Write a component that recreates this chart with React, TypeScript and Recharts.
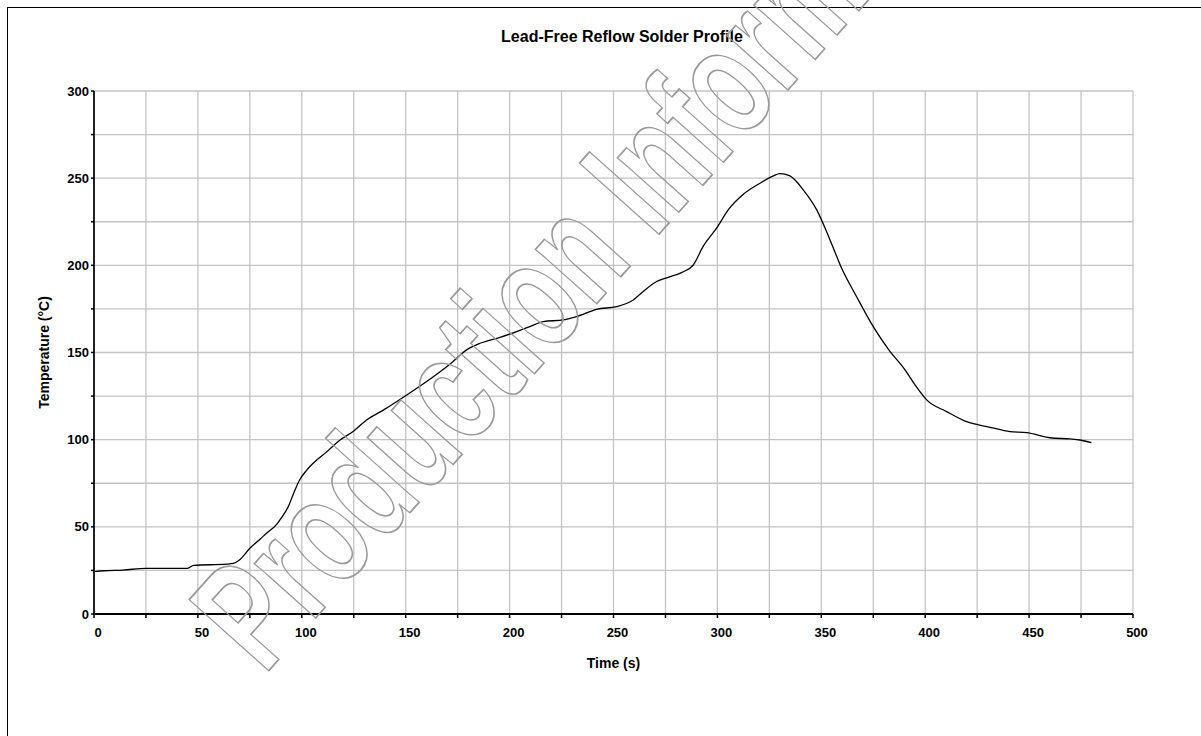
import React from 'react';
import { LineChart, Line, XAxis, YAxis, CartesianGrid, Label } from 'recharts';

const TIME_S = [0, 5, 14, 25, 45, 48, 64, 67, 70, 75, 80, 83, 88, 90, 93.5, 96, 99, 102, 105.5, 112, 118.4, 125, 131.2, 140, 150.5, 163.3, 172, 179.3, 185.8, 195.4, 203.4, 210, 216.2, 225.9, 232.3, 241.9, 251.5, 259.5, 264.3, 270.8, 276, 283, 288.4, 293.2, 299.6, 305.2, 312.5, 320.5, 326.9, 330.1, 334.9, 341.3, 347.8, 354.2, 359.8, 367, 375, 382.5, 390.3, 395.1, 400.7, 410.3, 419.9, 431.2, 440.8, 448.8, 460, 469.7, 474.5, 480];
const TEMP_C = [24.3, 24.8, 25.2, 26.2, 26.2, 27.9, 28.6, 29, 31, 37.7, 43, 46.3, 51.5, 54.9, 61.6, 69, 77, 82, 86.5, 93, 99.8, 105, 111.3, 117.5, 125.6, 136.1, 144, 151.5, 155.3, 158.7, 162, 165, 167.7, 168.7, 170.6, 174.8, 176.3, 180.1, 185, 190.7, 193, 196, 200.2, 211, 221.3, 231.8, 240.8, 247.1, 251.3, 252.6, 251.3, 243.3, 231.8, 214.6, 198.3, 182, 164.8, 151.5, 140, 131.4, 122.8, 116.1, 110.3, 107.1, 104.6, 104, 101.1, 100.4, 99.8, 98.3];

const X_TICKS = [0, 25, 50, 75, 100, 125, 150, 175, 200, 225, 250, 275, 300, 325, 350, 375, 400, 425, 450, 475, 500];
const Y_TICKS = [0, 25, 50, 75, 100, 125, 150, 175, 200, 225, 250, 275, 300];

const TITLE = 'Lead-Free Reflow Solder Profile';
const X_LABEL = 'Time (s)';
const Y_LABEL = 'Temperature (°C)';
const WATERMARK = 'Production Information';

const data = TIME_S.map((t, i) => ({ t, temp: TEMP_C[i] }));

const FONT = '"Liberation Sans", Arial, Helvetica, sans-serif';
const fmt = (v: number) => (v % 50 === 0 ? String(v) : '');

export default function App() {
  return (
    <div
      style={{
        position: 'absolute',
        left: 7,
        top: 7,
        width: 1300,
        height: 800,
        borderLeft: '1px solid #000',
        borderTop: '1px solid #000',
      }}
    >
      <div style={{ position: 'absolute', left: -8, top: -8, width: 1201, height: 736 }}>
        <LineChart
          width={1201}
          height={736}
          data={data}
          margin={{ top: 91, right: 68, bottom: 92, left: 34 }}
          style={{ fontFamily: FONT }}
        >
          <CartesianGrid stroke="#c4c4c4" strokeWidth={1.3} />
          <XAxis
            type="number"
            dataKey="t"
            domain={[0, 500]}
            ticks={X_TICKS}
            tickFormatter={fmt}
            interval={0}
            height={30}
            tickSize={4}
            tickMargin={10}
            axisLine={{ stroke: '#000', strokeWidth: 2 }}
            tickLine={{ stroke: '#000', strokeWidth: 1.5 }}
            tick={{ fontSize: 13, fontWeight: 'bold', fill: '#000', dx: 4, fontFamily: FONT }}
          >
            <Label
              value={X_LABEL}
              position="insideBottom"
              offset={-24}
              style={{ fontSize: 14, fontWeight: 'bold', fill: '#000', fontFamily: FONT }}
            />
          </XAxis>
          <YAxis
            type="number"
            domain={[0, 300]}
            ticks={Y_TICKS}
            tickFormatter={fmt}
            interval={0}
            width={60}
            tickSize={3}
            tickMargin={2}
            axisLine={{ stroke: '#222', strokeWidth: 2 }}
            tickLine={{ stroke: '#000', strokeWidth: 1.5 }}
            tick={{ fontSize: 13, fontWeight: 'bold', fill: '#000', fontFamily: FONT }}
          >
            <Label
              value={Y_LABEL}
              angle={-90}
              position="insideLeft"
              offset={10}
              style={{ fontSize: 14, fontWeight: 'bold', fill: '#000', fontFamily: FONT, textAnchor: 'middle' }}
            />
          </YAxis>
          <Line
            type="monotone"
            dataKey="temp"
            stroke="#000"
            strokeWidth={1.3}
            dot={false}
            isAnimationActive={false}
          />
        </LineChart>
        <svg
          width={1201}
          height={736}
          style={{ position: 'absolute', left: 0, top: 0, pointerEvents: 'none' }}
        >
          <text
            x={622}
            y={42}
            textAnchor="middle"
            fontFamily={FONT}
            fontWeight="bold"
            fontSize={16}
            fill="#000"
          >
            {TITLE}
          </text>
          <g transform="translate(264,676) rotate(-48.2) scale(0.68,1)">
            <text
              x={0}
              y={0}
              fontFamily={FONT}
              fontWeight="bold"
              fontSize={155}
              fill="none"
              stroke="#999"
              strokeWidth={1.5}
              vectorEffect="non-scaling-stroke"
            >
              {WATERMARK}
            </text>
          </g>
        </svg>
      </div>
    </div>
  );
}
